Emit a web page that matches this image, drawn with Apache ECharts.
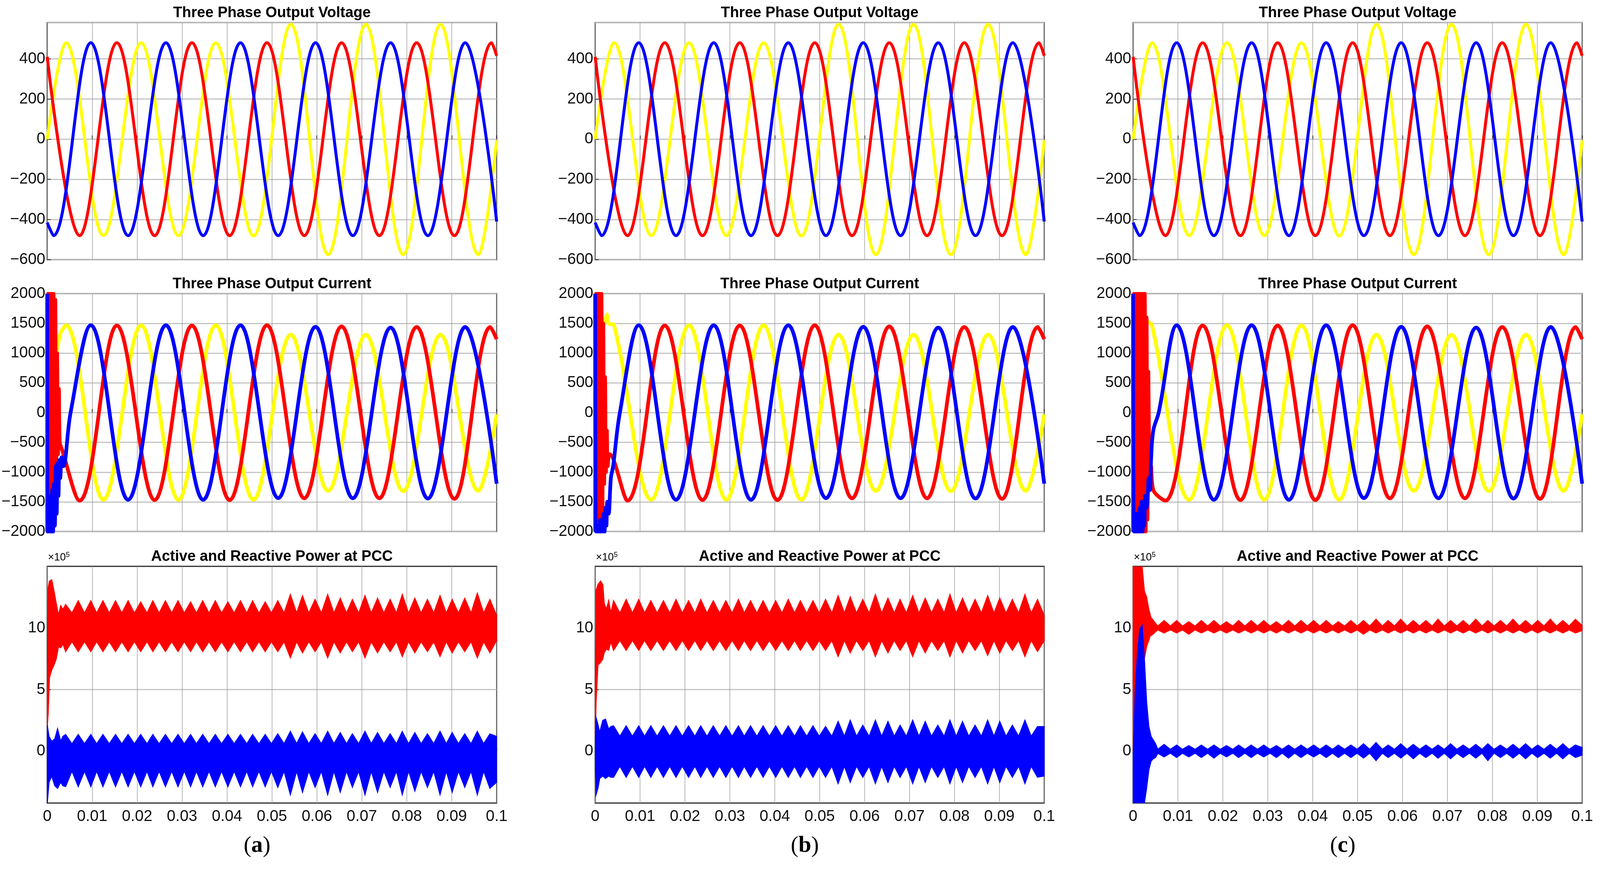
<!DOCTYPE html>
<html><head><meta charset="utf-8">
<script src="https://cdn.jsdelivr.net/npm/echarts@6/dist/echarts.min.js"></script>
<style>html,body{margin:0;padding:0;background:#fff;overflow:hidden}#c{width:100vw;height:100vh}</style>
</head><body><div id="c"></div>
<script>
// ---------- DATA ----------
const rowTitles = ['Three Phase Output Voltage', 'Three Phase Output Current', 'Active and Reactive Power at PCC'];
const panelLetters = ['a', 'b', 'c'];
const xTicks = [0, 0.01, 0.02, 0.03, 0.04, 0.05, 0.06, 0.07, 0.08, 0.09, 0.1];
const voltTicks = [-600, -400, -200, 0, 200, 400];
const currTicks = [-2000, -1500, -1000, -500, 0, 500, 1000, 1500, 2000];
const powerTicks = [0, 5, 10];

// Voltage peaks [t, V] (same in all three cases)
const voltYellow = [[0,0],[0.0042,480],[0.0125,-480],[0.0209,480],[0.0292,-480],[0.0375,480],[0.0459,-482],[0.0542,572],[0.0625,-575],[0.0709,572],[0.0792,-575],[0.0875,572],[0.0959,-575],[0.1,-5]];
const voltRed = [[0,410],[0.0072,-480],[0.0155,480],[0.0239,-480],[0.0322,480],[0.0406,-480],[0.0489,480],[0.0572,-480],[0.0655,480],[0.0739,-480],[0.0822,480],[0.0906,-480],[0.0989,480],[0.1,415]];
const voltBlue = [[0,-415],[0.0014,-480],[0.0097,480],[0.018,-480],[0.0264,480],[0.0347,-480],[0.043,480],[0.0514,-480],[0.0597,480],[0.068,-480],[0.0764,480],[0.0847,-480],[0.093,480],[0.1,-410]];

// Current steady-state peaks [t, A]
const curYellowSteady = [[0.0042,1470],[0.0125,-1465],[0.0209,1470],[0.0292,-1465],[0.0375,1470],[0.0459,-1465],[0.0542,1310],[0.0625,-1315],[0.0709,1310],[0.0792,-1320],[0.0875,1310],[0.0959,-1315],[0.1,-30]];
const curRedSteady = [[0.0072,-1480],[0.0155,1465],[0.0239,-1470],[0.0322,1465],[0.0406,-1470],[0.0489,1470],[0.0572,-1440],[0.0655,1450],[0.0739,-1440],[0.0822,1440],[0.0906,-1450],[0.0986,1440],[0.1,1235]];
const curBlueSteady = [[0.0097,1470],[0.018,-1465],[0.0264,1470],[0.0347,-1465],[0.043,1470],[0.0514,-1437],[0.0597,1443],[0.068,-1440],[0.0764,1430],[0.0847,-1445],[0.093,1440],[0.1,-1195]];

// Current start-up transients per case
const curYellowStartA = [[0,0],[0.0028,1300]];
const curRedStartA = [[0,-2000],[0.0002,2000],[0.0004,-2000],[0.0006,2000],[0.0008,-2000],[0.001,2000],[0.0012,-2000],[0.0014,2000],[0.0016,-1900],[0.0018,1900],[0.002,-1000],[0.0022,1000],[0.0024,-700],[0.0026,400],[0.0028,-500],[0.0032,-600]];
const curBlueStartA = [[0,2000],[0.0001,-2000],[0.0003,-1500],[0.0005,-2000],[0.0007,-1400],[0.0009,-2000],[0.0011,-1300],[0.0013,-2000],[0.0015,-1200],[0.0017,-1900],[0.0019,-900],[0.0021,-1700],[0.0023,-850],[0.0025,-1400],[0.0027,-800],[0.0029,-1100],[0.0032,-750],[0.0036,-900],[0.0052,0]];
const curYellowStartB = [[0,0],[0.0026,1650],[0.003,1500]];
const curRedStartB = [[0,-2000],[0.0002,2000],[0.0004,-2000],[0.0006,2000],[0.0008,-2000],[0.001,2000],[0.0012,-2000],[0.0014,2000],[0.0016,-1800],[0.0018,1500],[0.002,-1200],[0.0022,600],[0.0024,-1000],[0.0026,-300],[0.0028,-900],[0.0032,-700]];
const curBlueStartB = [[0,2000],[0.0001,-2000],[0.0003,-1900],[0.0005,-2000],[0.0007,-1900],[0.0009,-2000],[0.0011,-1800],[0.0013,-2000],[0.0015,-1800],[0.0017,-2000],[0.0019,-1700],[0.0021,-2000],[0.0023,-1600],[0.0025,-1900],[0.0027,-1500],[0.003,-1700],[0.0035,-1100],[0.004,-900],[0.0055,0]];
const curYellowStartC = [[0,0],[0.0026,1650],[0.003,1550]];
const curRedStartC = [[0,-2000],[0.0002,2000],[0.0004,-2000],[0.0006,2000],[0.0008,-2000],[0.001,2000],[0.0012,-2000],[0.0014,2000],[0.0016,-2000],[0.0018,2000],[0.002,-2000],[0.0022,2000],[0.0024,-2000],[0.0026,2000],[0.0028,-2000],[0.003,1600],[0.0032,-1800],[0.0034,700],[0.0036,-800],[0.0038,-1300],[0.004,-900],[0.0045,-1300]];
const curBlueStartC = [[0,2000],[0.0001,-2000],[0.0003,-1700],[0.0005,-2000],[0.0007,-1700],[0.0009,-2000],[0.0011,-1700],[0.0013,-2000],[0.0015,-1600],[0.0017,-2000],[0.0019,-1500],[0.0021,-2000],[0.0023,-1500],[0.0025,-1900],[0.0027,-1400],[0.003,-1600],[0.0032,-1500],[0.0035,-1100],[0.0038,-1300],[0.004,-800],[0.0045,-300],[0.0057,0]];

// Power ripple envelope (x1e5): lobe times and valley times
const lobeT = [0.0041,0.0069,0.0097,0.0124,0.0152,0.0180,0.0208,0.0235,0.0263,0.0291,0.0319,0.0346,0.0374,0.0402,0.0430,0.0457,0.0485,0.0513,0.0541,0.0568,0.0596,0.0624,0.0652,0.0679,0.0707,0.0735,0.0763,0.0790,0.0818,0.0846,0.0874,0.0901,0.0929,0.0957,0.0985];
const valleyT = [0.0055,0.0083,0.0110,0.0138,0.0166,0.0194,0.0222,0.0249,0.0277,0.0305,0.0332,0.0360,0.0388,0.0416,0.0444,0.0471,0.0499,0.0527,0.0555,0.0582,0.0610,0.0638,0.0666,0.0693,0.0721,0.0749,0.0777,0.0804,0.0832,0.0860,0.0888,0.0915,0.0943,0.0971];

// case (a)
const pRedStartA = [[0,2,2],[0.0002,13.2,3],[0.0005,13.8,6],[0.001,13.9,6.6],[0.0015,13,7],[0.002,12,7.5],[0.0025,11,8.5],[0.003,11.8,8.4],[0.0035,11.5,8.7]];
const pRedUpA = [11.9,12.2,12.2,12.2,12.2,12.2,12.1,12.2,12.2,12.2,12.1,12.2,12.2,12.1,12.2,12.2,12.1,12.2,12.7,12.6,12.3,12.7,12.4,12.3,12.6,12.4,12.3,12.7,12.4,12.3,12.6,12.3,12.4,12.8,12.3];
const pRedLowA = [8.1,8.1,8.1,8.1,8.1,8.1,8.1,8.1,8.1,8.1,8.1,8.1,8.1,8.1,8.1,8.1,8.1,8.1,7.6,8.0,8.1,7.6,8.0,8.1,7.6,8.0,8.1,7.7,8.0,8.1,7.7,8.0,8.1,7.6,8.0];
const pRedValleyA = [11.2, 8.9];
const pRedEndA = [11.0, 9.0];
const pBlueStartA = [[0,2.1,-4.2],[0.0004,1.2,-2.5],[0.001,0.8,-2.0],[0.0017,1.0,-2.8],[0.0023,1.8,-3.0],[0.003,0.8,-2.5],[0.0035,1.2,-2.8]];
const pBlueUpA = [1.35,1.35,1.35,1.35,1.35,1.35,1.35,1.35,1.35,1.35,1.35,1.35,1.35,1.35,1.35,1.35,1.35,1.4,1.6,1.55,1.4,1.6,1.5,1.4,1.6,1.5,1.4,1.6,1.5,1.4,1.6,1.5,1.4,1.6,1.4];
const pBlueLowA = [-2.85,-2.85,-2.85,-2.85,-2.85,-2.85,-2.85,-2.85,-2.85,-2.85,-2.85,-2.85,-2.85,-2.85,-2.85,-2.85,-2.85,-2.9,-3.5,-3.3,-2.9,-3.5,-3.3,-2.9,-3.5,-3.3,-2.9,-3.5,-3.2,-2.9,-3.5,-3.3,-2.9,-3.5,-3.0];
const pBlueValleyA = [0.6, -1.6];
const pBlueEndA = [1.2, -2.5];
// case (b)
const pRedStartB = [[0,3,1],[0.0002,13,4],[0.0006,13.5,7],[0.0012,13.8,7.2],[0.0017,13.5,7.5],[0.002,12,8],[0.0025,11.5,8.3],[0.003,12.2,8.2],[0.0035,11.2,8.9]];
const pRedUpB = [12.2,12.3,12.3,12.2,12.2,12.3,12.2,12.3,12.2,12.2,12.3,12.2,12.2,12.2,12.3,12.2,12.2,12.3,12.6,12.5,12.3,12.7,12.4,12.3,12.6,12.4,12.3,12.7,12.4,12.3,12.6,12.4,12.3,12.7,12.3];
const pRedLowB = [8.2,8.2,8.2,8.2,8.2,8.2,8.2,8.2,8.2,8.2,8.2,8.2,8.2,8.2,8.2,8.2,8.2,8.2,7.7,8.0,8.2,7.7,8.0,8.2,7.7,8.0,8.2,7.7,8.0,8.2,7.8,8.0,8.2,7.7,8.1];
const pRedValleyB = [11.2, 9.0];
const pRedEndB = [11.0, 9.0];
const pBlueStartB = [[0,0,0],[0.0002,2.7,-3.5],[0.0006,2.2,-3.0],[0.001,1.5,-2.2],[0.0017,2.5,-2.0],[0.0023,2.6,-2.2],[0.003,1.8,-2.0],[0.0035,2.0,-2.1]];
const pBlueUpB = [2.05,2.05,2.05,2.05,2.05,2.05,2.05,2.05,2.05,2.05,2.05,2.05,2.05,2.05,2.05,2.05,2.05,2.0,2.4,2.5,2.1,2.5,2.4,2.1,2.5,2.4,2.1,2.5,2.4,2.1,2.5,2.4,2.1,2.5,2.0];
const pBlueLowB = [-2.1,-2.1,-2.1,-2.1,-2.1,-2.1,-2.1,-2.1,-2.1,-2.1,-2.1,-2.1,-2.1,-2.1,-2.1,-2.1,-2.1,-2.1,-2.6,-2.5,-2.1,-2.6,-2.5,-2.1,-2.6,-2.5,-2.1,-2.6,-2.5,-2.1,-2.6,-2.5,-2.1,-2.6,-2.1];
const pBlueValleyB = [1.2, -1.2];
const pBlueEndB = [2.0, -2.0];
// case (c)
const pRedStartC = [[0,15,-4.2],[0.0012,15,-4.2],[0.0015,15,5],[0.002,15,7],[0.0025,13,7.5],[0.003,12.5,8.5],[0.0035,11.5,9],[0.004,10.8,9.6]];
const pRedUpC = [10.8,10.6,10.6,10.5,10.6,10.6,10.5,10.6,10.6,10.6,10.5,10.6,10.6,10.6,10.6,10.5,10.6,10.6,10.7,10.6,10.7,10.6,10.6,10.7,10.6,10.6,10.7,10.6,10.6,10.7,10.6,10.6,10.7,10.6,10.7];
const pRedLowC = [9.4,9.6,9.6,9.5,9.6,9.6,9.6,9.6,9.6,9.6,9.6,9.6,9.6,9.6,9.6,9.6,9.6,9.5,9.6,9.6,9.6,9.6,9.6,9.6,9.6,9.6,9.6,9.6,9.6,9.6,9.6,9.6,9.6,9.6,9.6];
const pRedValleyC = [10.15, 9.85];
const pRedEndC = [10.2, 9.8];
const pBlueStartC = [[0,-1,-4.2],[0.0005,5,-4.2],[0.001,8,-4.2],[0.0015,9.9,-4.2],[0.002,10.2,-4.2],[0.0025,7.5,-4.2],[0.003,4,-3],[0.0035,2,-1.5],[0.004,1.2,-0.8],[0.0045,0.9,-0.6],[0.005,0.6,-0.5]];
const pBlueUpC = [0.6,0.55,0.5,0.45,0.5,0.5,0.45,0.5,0.5,0.5,0.45,0.5,0.5,0.5,0.5,0.5,0.5,0.6,0.7,0.5,0.6,0.55,0.5,0.5,0.6,0.5,0.55,0.6,0.5,0.55,0.6,0.5,0.55,0.6,0.5];
const pBlueLowC = [-0.5,-0.45,-0.5,-0.45,-0.5,-0.55,-0.45,-0.5,-0.5,-0.45,-0.5,-0.55,-0.5,-0.45,-0.5,-0.5,-0.5,-0.55,-0.75,-0.5,-0.55,-0.6,-0.5,-0.55,-0.6,-0.5,-0.55,-0.75,-0.5,-0.55,-0.6,-0.5,-0.55,-0.6,-0.5];
const pBlueValleyC = [0.15, -0.15];
const pBlueEndC = [0.3, -0.3];

// ---------- LAYOUT (reference px on a 4304x2230 canvas, scaled to the window) ----------
const W = window.innerWidth, H = window.innerHeight;
const SX = W / 4304, SY = H / 2230, S = Math.min(SX, SY);
const cols = [{left:127,width:1209},{left:1601,width:1208},{left:3048,width:1208}];
const rows = [{top:58,height:607},{top:752,height:609},{top:1450,height:606}];
const YEL = '#ffff00', RED = '#ff0000', BLU = '#0000ff';
const FONT = '"Liberation Sans Narrow", "Arial Narrow", "Liberation Sans", Arial, sans-serif';
const px = v => v * SX, py = v => v * SY, fs = v => Math.round(v * S);

function envelope(start, up, low, valley, end) {
  const U = start.map(s => [s[0], s[1]]);
  const L = start.map(s => [s[0], s[2]]);
  const lastT = start[start.length - 1][0];
  for (let k = 0; k < lobeT.length; k++) {
    if (lobeT[k] > lastT) { U.push([lobeT[k], up[k]]); L.push([lobeT[k], low[k]]); }
    if (k < valleyT.length && valleyT[k] > lastT) { U.push([valleyT[k], valley[0]]); L.push([valleyT[k], valley[1]]); }
  }
  U.push([0.1, end[0]]); L.push([0.1, end[1]]);
  return U.concat(L.reverse());
}
function band(gi, pts, color) {
  return {type:'custom', xAxisIndex:gi, yAxisIndex:gi, clip:true, silent:true, data:[[0,0]],
    renderItem:(p, api) => ({type:'polygon', shape:{points: pts.map(q => api.coord(q))},
      style:{fill:color, stroke:color, lineWidth:3 * S}})};
}
function wave(gi, data, color, w) {
  return {type:'line', xAxisIndex:gi, yAxisIndex:gi, data:data, smooth:0.363, symbol:'none',
    lineStyle:{color:color, width:w * S}, silent:true, animation:false, clip:true};
}

const grids = [], xAxes = [], yAxes = [], series = [], graphics = [];
for (let r = 0; r < 3; r++) for (let c = 0; c < 3; c++) {
  const gi = r * 3 + c;
  grids.push({left:px(cols[c].left), width:px(cols[c].width), top:py(rows[r].top), height:py(rows[r].height),
    show:true, borderColor:'#2b2b2b', borderWidth:3 * S, backgroundColor:'#fff'});
  xAxes.push({type:'value', gridIndex:gi, min:0, max:0.1, interval:0.01,
    axisLine:{show:false}, axisTick:{show:true, inside:true, length:10 * S, lineStyle:{color:'#333', width:2 * S}},
    splitLine:{show:true, lineStyle:{color:'#9a9a9a', width:1.5 * S}},
    axisLabel:{show:r === 2, color:'#111', fontFamily:FONT, fontSize:fs(42), margin:16 * S,
      formatter: v => String(+v.toFixed(2))}});
  const common = {type:'value', gridIndex:gi,
    axisLine:{show:false}, axisTick:{show:true, inside:true, length:10 * S, lineStyle:{color:'#333', width:2 * S}},
    splitLine:{show:true, lineStyle:{color:'#c4c4c4', width:3 * S}}};
  const lab = {color:'#111', fontFamily:FONT, fontSize:fs(42), margin:5 * S};
  let y;
  if (r === 0) y = {min:-600, max:580, interval:200,
    axisLabel:Object.assign({showMaxLabel:false, formatter: v => voltTicks.indexOf(v) >= 0 ? String(v).replace('-', '\u2212') : ''}, lab)};
  else if (r === 1) y = {min:-2000, max:2000, interval:500,
    axisLabel:Object.assign({formatter: v => String(v).replace('-', '\u2212')}, lab)};
  else y = {min:-4.2, max:15,
    axisTick:{show:true, inside:true, length:10 * S, customValues:powerTicks, lineStyle:{color:'#333', width:2 * S}},
    axisLabel:Object.assign({customValues:powerTicks, formatter: v => String(v)}, lab)};
  yAxes.push(Object.assign(common, y));
  graphics.push({type:'text', x:px(cols[c].left + cols[c].width/2), y:py(rows[r].top - 24),
    style:{text:rowTitles[r], font:'bold ' + fs(40) + 'px ' + FONT, fill:'#000', align:'center', verticalAlign:'middle'}});
}
for (let c = 0; c < 3; c++) {
  graphics.push({type:'text', x:px(cols[c].left + 2), y:py(rows[2].top - 22),
    style:{text:'{a|×10}{s|5}', verticalAlign:'middle', rich:{a:{fontSize:fs(28), fontFamily:FONT, fill:'#000'}, s:{fontSize:fs(19), fontFamily:FONT, fill:'#000', padding:[0,0,fs(14),0]}}}});
  graphics.push({type:'text', x:px(cols[c].left + cols[c].width/2 - 40), y:py(2166),
    style:{text:'{p|(}{b|' + panelLetters[c] + '})', align:'center', verticalAlign:'middle',
      rich:{p:{fontSize:fs(62), fontFamily:'Liberation Serif, serif', fill:'#000'}, b:{fontSize:fs(62), fontWeight:'bold', fontFamily:'Liberation Serif, serif', fill:'#000'}},
      fontSize:fs(62), fontFamily:'Liberation Serif, serif', fill:'#000'}});
}
for (let c = 0; c < 3; c++) {
  series.push(wave(c, voltYellow, YEL, 8), wave(c, voltRed, RED, 8), wave(c, voltBlue, BLU, 8));
}
const curStarts = [[curYellowStartA, curRedStartA, curBlueStartA],[curYellowStartB, curRedStartB, curBlueStartB],[curYellowStartC, curRedStartC, curBlueStartC]];
for (let c = 0; c < 3; c++) {
  const gi = 3 + c; const s = curStarts[c];
  series.push(wave(gi, s[0].concat(curYellowSteady), YEL, 10), wave(gi, s[1].concat(curRedSteady), RED, 10), wave(gi, s[2].concat(curBlueSteady), BLU, 10));
}
series.push(band(6, envelope(pRedStartA, pRedUpA, pRedLowA, pRedValleyA, pRedEndA), RED));
series.push(band(6, envelope(pBlueStartA, pBlueUpA, pBlueLowA, pBlueValleyA, pBlueEndA), BLU));
series.push(band(7, envelope(pRedStartB, pRedUpB, pRedLowB, pRedValleyB, pRedEndB), RED));
series.push(band(7, envelope(pBlueStartB, pBlueUpB, pBlueLowB, pBlueValleyB, pBlueEndB), BLU));
series.push(band(8, envelope(pRedStartC, pRedUpC, pRedLowC, pRedValleyC, pRedEndC), RED));
series.push(band(8, envelope(pBlueStartC, pBlueUpC, pBlueLowC, pBlueValleyC, pBlueEndC), BLU));

const chart = echarts.init(document.getElementById('c'), null, {renderer:'canvas'});
chart.setOption({animation:false, backgroundColor:'#fff', grid:grids, xAxis:xAxes, yAxis:yAxes, series:series, graphic:graphics});
</script></body></html>
